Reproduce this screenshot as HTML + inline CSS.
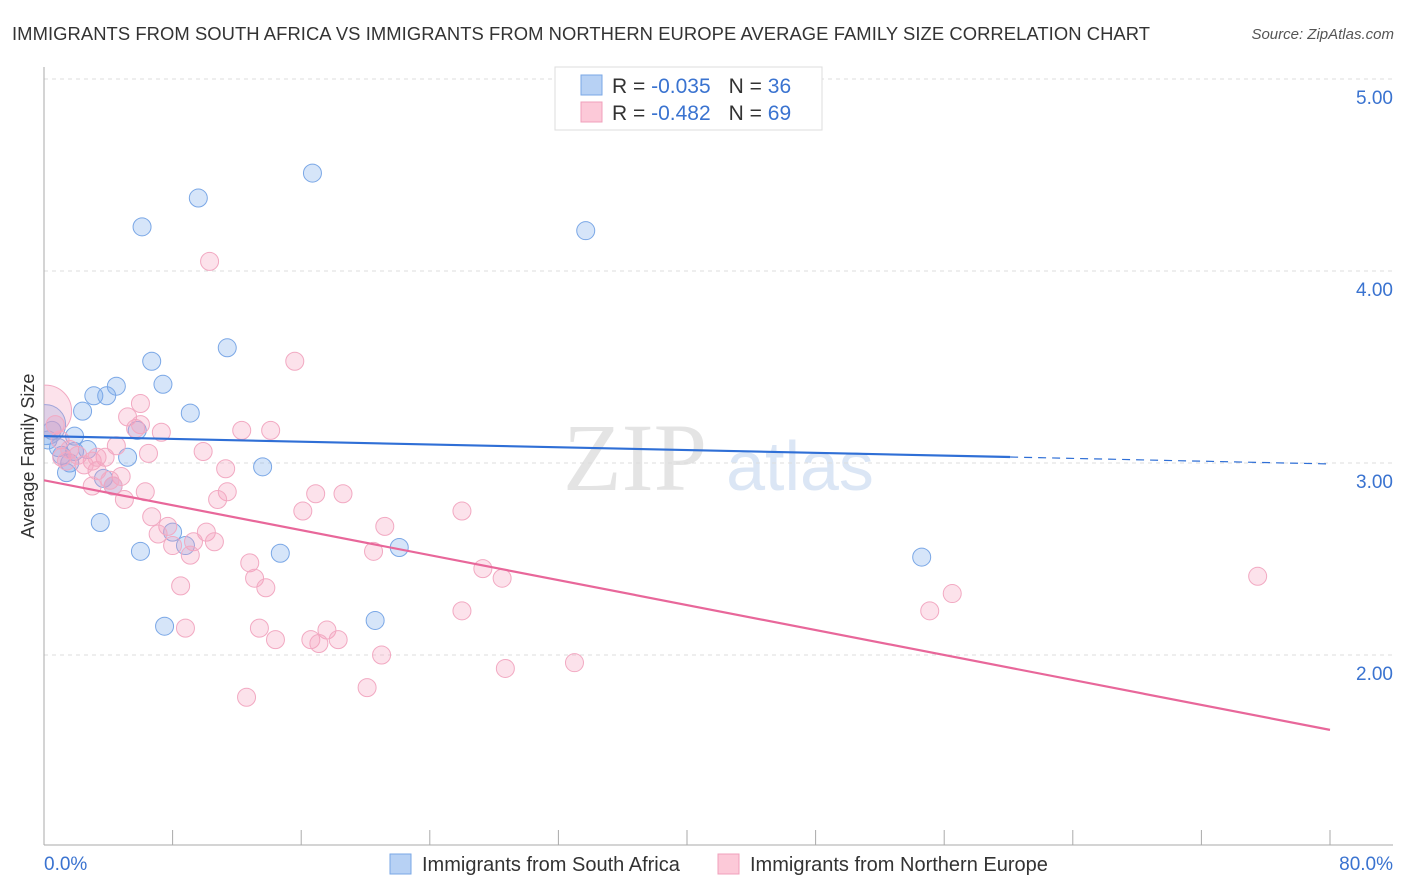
<!DOCTYPE html>
<html><head><meta charset="utf-8"><style>
body{margin:0;background:#fff;font-family:"Liberation Sans",sans-serif;}
svg{display:block}
</style></head><body>
<svg id="chart" width="1406" height="892">
<defs><clipPath id="plotclip"><rect x="44" y="60" width="1360" height="785"/></clipPath></defs>
<text x="12" y="40" font-size="18.4" fill="#333" textLength="1138">IMMIGRANTS FROM SOUTH AFRICA VS IMMIGRANTS FROM NORTHERN EUROPE AVERAGE FAMILY SIZE CORRELATION CHART</text>
<text x="1394" y="39" font-size="15" fill="#555" font-style="italic" text-anchor="end">Source: ZipAtlas.com</text>
<g>
<text x="635" y="490" font-size="96" font-family="Liberation Serif" fill="#e4e4e4" text-anchor="middle">ZIP</text>
<text x="800" y="490" font-size="70" fill="#dbe6f5" text-anchor="middle">atlas</text>
</g>
<g id="grid"></g>
<g id="axes"></g>
<g id="marks" clip-path="url(#plotclip)"></g>
<text transform="translate(34,456) rotate(-90)" font-size="18" fill="#333" text-anchor="middle">Average Family Size</text>
<g>
<rect x="555" y="67" width="267" height="63" fill="#fff" stroke="#ddd"/>
<rect x="581" y="75" width="21" height="20" fill="#b7d1f4" stroke="#7aa7e6"/>
<rect x="581" y="102" width="21" height="20" fill="#fcc9d8" stroke="#f0a0bb"/>
<text x="612" y="93" font-size="21" fill="#333">R = <tspan fill="#3a73d0">-0.035</tspan><tspan dx="18">N = </tspan><tspan fill="#3a73d0">36</tspan></text>
<text x="612" y="120" font-size="21" fill="#333">R = <tspan fill="#3a73d0">-0.482</tspan><tspan dx="18">N = </tspan><tspan fill="#3a73d0">69</tspan></text>
</g>
<g>
<rect x="390" y="854" width="21" height="20" fill="#b7d1f4" stroke="#7aa7e6"/>
<text x="422" y="871" font-size="20" fill="#333">Immigrants from South Africa</text>
<rect x="718" y="854" width="21" height="20" fill="#fcc9d8" stroke="#f0a0bb"/>
<text x="750" y="871" font-size="20" fill="#333">Immigrants from Northern Europe</text>
</g>
</svg>
<script>
const yTicks=[2,3,4,5];
const yTickLabels=["2.00","3.00","4.00","5.00"];
const xTickLabels=["0.0%","80.0%"];
const blueX=[16.7,9.6,6.1,33.7,11.4,6.7,7.4,4.5,3.1,3.9,9.1,2.4,5.8,0.1,1.9,2.7,0.9,1.1,5.2,13.6,1.6,1.4,3.7,4.3,3.5,6.0,8.8,14.7,22.1,54.6,7.5,20.6,8.0,0.25,0.5,1.9];
const blueY=[4.51,4.38,4.23,4.21,3.60,3.53,3.41,3.40,3.35,3.35,3.26,3.27,3.17,3.20,3.14,3.07,3.08,3.04,3.03,2.98,3.00,2.95,2.92,2.88,2.69,2.54,2.57,2.53,2.56,2.51,2.15,2.18,2.64,3.12,3.17,3.06];
const blueR=[11,11,11,11,11,11,11,11,11,11,11,11,11,22,11,11,11,11,11,11,11,11,11,11,11,11,11,11,11,11,11,11,11,11,11,11];
const pinkX=[10.3,15.6,6.0,5.2,12.3,14.1,7.3,4.5,9.9,6.5,3.8,3.0,2.1,1.1,11.3,3.3,4.8,3.0,4.3,6.3,11.4,10.8,5.0,16.9,18.6,6.7,16.1,26.0,7.7,21.2,7.1,10.1,9.3,10.6,8.0,9.1,20.5,12.8,27.3,28.5,8.5,13.1,13.8,26.0,55.1,56.5,75.5,8.8,13.4,17.6,14.4,16.6,17.1,18.3,21.0,28.7,33.0,20.1,12.6,0.1,0.7,1.0,1.6,2.5,5.7,3.3,1.4,4.1,6.0];
const pinkY=[4.05,3.53,3.31,3.24,3.17,3.17,3.16,3.09,3.06,3.05,3.03,3.01,3.04,3.03,2.97,2.96,2.93,2.88,2.88,2.85,2.85,2.81,2.81,2.84,2.84,2.72,2.75,2.75,2.67,2.67,2.63,2.64,2.59,2.59,2.57,2.52,2.54,2.48,2.45,2.40,2.36,2.40,2.35,2.23,2.23,2.32,2.41,2.14,2.14,2.13,2.08,2.08,2.06,2.08,2.00,1.93,1.96,1.83,1.78,3.27,3.20,3.12,3.07,2.99,3.18,3.03,3.01,2.91,3.20];
const blueTrend=[3.14,2.995];
const blueSolidEnd=60.1;
const pinkTrend=[2.91,1.61];
const NS="http://www.w3.org/2000/svg";
const X0=44,X1=1330,Y5=79,PPU=192;
function sx(v){return X0+(v/80)*(X1-X0);}
function sy(v){return Y5+(5-v)*PPU;}
function mk(tag,attrs,parent){const e=document.createElementNS(NS,tag);for(const k in attrs)e.setAttribute(k,attrs[k]);parent.appendChild(e);return e;}
const grid=document.getElementById('grid'),axes=document.getElementById('axes'),marks=document.getElementById('marks');
yTicks.forEach((t,i)=>{
 const l=mk('line',{x1:X0,x2:1393,y1:sy(t),y2:sy(t),stroke:'#ddd','stroke-dasharray':'4,4'},grid);
 
 
 const tx=mk('text',{x:1393,y:sy(t)+25,'font-size':19,fill:'#3a73d0','text-anchor':'end'},axes);
 tx.textContent=yTickLabels[i];
 
 
});
const ax=mk('line',{x1:X0,x2:1393,y1:845,y2:845,stroke:'#aaa'},axes);


const ay=mk('line',{x1:X0,x2:X0,y1:67,y2:845,stroke:'#aaa'},axes);


for(let i=0;i<=10;i++){
 const tk=mk('line',{x1:sx(i*8),x2:sx(i*8),y1:830,y2:845,stroke:'#aaa'},axes);
 
 
}
const xl0=mk('text',{x:44,y:870,'font-size':19,fill:'#3a73d0'},axes);xl0.textContent=xTickLabels[0];


const xl1=mk('text',{x:1393,y:870,'font-size':19,fill:'#3a73d0','text-anchor':'end'},axes);xl1.textContent=xTickLabels[1];


blueX.forEach((x,i)=>{
 const c=mk('circle',{cx:sx(x),cy:sy(blueY[i]),r:blueR[i]-2,fill:'rgba(120,170,235,0.3)',stroke:'#7aa7e6','stroke-width':1},marks);
 
 
});
pinkX.forEach((x,i)=>{
 const r=i===59?26:9;
 const c=mk('circle',{cx:sx(x),cy:sy(pinkY[i]),r:r,fill:'rgba(245,160,190,0.3)',stroke:'#f2a9c2','stroke-width':1},marks);
 
 
});
function ty(tr,x){return tr[0]+(tr[1]-tr[0])*x/80;}
const bl=mk('line',{x1:sx(0),y1:sy(blueTrend[0]),x2:sx(blueSolidEnd),y2:sy(ty(blueTrend,blueSolidEnd)),stroke:'#2f6fd6','stroke-width':2.2},marks);


const bd=mk('line',{x1:sx(blueSolidEnd),y1:sy(ty(blueTrend,blueSolidEnd)),x2:sx(80),y2:sy(blueTrend[1]),stroke:'#2f6fd6','stroke-width':1.2,'stroke-dasharray':'8,6'},marks);


const pl=mk('line',{x1:sx(0),y1:sy(pinkTrend[0]),x2:sx(80),y2:sy(pinkTrend[1]),stroke:'#e8679a','stroke-width':2.2},marks);


</script>
</body></html>
